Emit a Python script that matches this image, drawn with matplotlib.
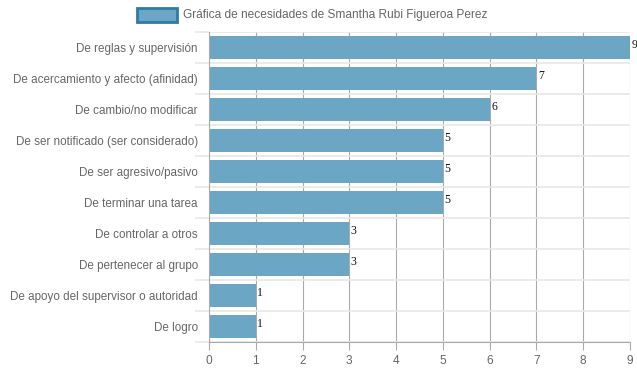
import matplotlib
matplotlib.use("Agg")
import matplotlib.pyplot as plt
from matplotlib.patches import Rectangle

categories = [
    "De reglas y supervisión",
    "De acercamiento y afecto (afinidad)",
    "De cambio/no modificar",
    "De ser notificado (ser considerado)",
    "De ser agresivo/pasivo",
    "De terminar una tarea",
    "De controlar a otros",
    "De pertenecer al grupo",
    "De apoyo del supervisor o autoridad",
    "De logro",
]
values = [9, 7, 6, 5, 5, 5, 3, 3, 1, 1]
xticks = list(range(0, 10))
legend_label = "Gráfica de necesidades de Smantha Rubi Figueroa Perez"

plt.rcParams['font.family'] = ['Liberation Sans', 'DejaVu Sans']

fig = plt.figure(figsize=(6.37, 3.71), dpi=100)
ax = fig.add_axes([209/637, 1-342/371, (630-209)/637, (342-32)/371])

bar_color = "#6ba6c5"
n = len(categories)
ypos = list(range(n))
ax.barh(ypos, values, height=0.72, color=bar_color, zorder=2)
ax.set_ylim(n - 0.5, -0.5)
ax.set_xlim(0, 9)

for y, v in zip(ypos, values):
    ax.text(v + 0.03, y - 0.08, str(v), fontsize=8.5, family='Liberation Serif',
            color='#111111', ha='left', va='center', zorder=3)

ax.set_xticks(xticks)
ax.set_xticklabels([str(t) for t in xticks])
ax.set_yticks(ypos)
ax.set_yticklabels(categories)
ax.set_yticks([i - 0.5 for i in range(n + 1)], minor=True)

ax.grid(axis='x', color='#aaaaaa', linewidth=0.8, zorder=1)
ax.grid(axis='y', which='minor', color='#e8e8e8', linewidth=1.2, zorder=1)
ax.tick_params(axis='y', which='major', length=0, labelsize=8.4, labelcolor='#666666', pad=8)
ax.tick_params(axis='y', which='minor', length=10, color='#e8e8e8', width=1.2)
ax.tick_params(axis='x', length=6, color='#aaaaaa', labelsize=8.6, labelcolor='#666666', pad=3)

for s in ['top', 'right']:
    ax.spines[s].set_visible(False)
ax.spines['left'].set_color('#aaaaaa')
ax.spines['bottom'].set_color('#aaaaaa')
ax.spines['left'].set_linewidth(0.8)
ax.spines['bottom'].set_linewidth(0.8)

# legend
fig.patches.append(Rectangle((137/637, 1-22/371), 40/637, 14/371, transform=fig.transFigure,
                             facecolor=bar_color, edgecolor='#2f7aa6', linewidth=2))
fig.text(183/637, 1-15/371, legend_label, fontsize=8.6, color='#666666', ha='left', va='center')

fig.savefig("out.png", dpi=100)
